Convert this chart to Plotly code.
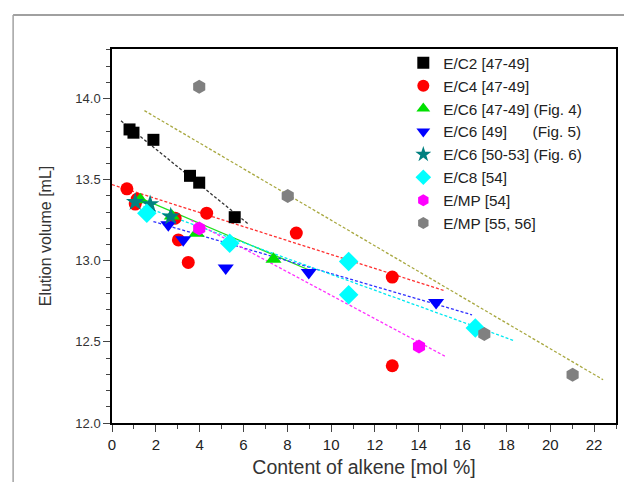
import plotly.graph_objects as go

# ---- data ----
c2_x = [0.80, 0.98, 1.89, 3.56, 3.98, 5.60]
c2_y = [13.81, 13.79, 13.746, 13.524, 13.482, 13.269]

c4_x = [0.68, 1.06, 1.15, 2.88, 3.03, 3.48, 4.32, 8.41, 12.79, 12.79]
c4_y = [13.444, 13.35, 13.38, 13.263, 13.129, 12.99, 13.294, 13.171, 12.90, 12.353]

c6a_x = [1.29, 2.73, 3.86, 7.37]
c6a_y = [13.376, 13.277, 13.17, 13.01]

c6b_x = [2.57, 3.25, 5.19, 8.98, 14.79]
c6b_y = [13.222, 13.13, 12.955, 12.928, 12.743]

c6c_x = [1.06, 1.74, 2.68]
c6c_y = [13.362, 13.349, 13.273]

c8_x = [1.59, 5.37, 10.80, 10.80, 16.58]
c8_y = [13.294, 13.109, 12.996, 12.79, 12.585]

mp54_x = [3.98, 14.01]
mp54_y = [13.20, 12.472]

mp56_x = [3.98, 8.02, 16.99, 21.02]
mp56_y = [14.074, 13.40, 12.548, 12.298]

# fit lines (end points)
fit_c2_x = [0.41, 6.22];   fit_c2_y = [13.863, 13.227]
fit_c4_x = [0.0, 15.14];   fit_c4_y = [13.47, 12.817]
fit_c6a_x = [1.14, 9.15];  fit_c6a_y = [13.396, 12.934]
fit_c6b_x = [1.89, 16.43]; fit_c6b_y = [13.242, 12.667]
fit_c8_x = [1.44, 18.32];  fit_c8_y = [13.335, 12.509]
fit_mp54_x = [3.6, 15.22]; fit_mp54_y = [13.25, 12.41]
fit_mp56_x = [1.48, 22.41]; fit_mp56_y = [13.926, 12.267]

NB = "\u00a0"
series = [
    ("E/C2 [47-49]", c2_x, c2_y, "square", "#000000", 12),
    ("E/C4 [47-49]", c4_x, c4_y, "circle", "#ff0000", 13),
    ("E/C6 [47-49] (Fig. 4)", c6a_x, c6a_y, "triangle-up", "#00e000", 14),
    ("E/C6 [49]" + NB * 6 + "(Fig. 5)", c6b_x, c6b_y, "triangle-down", "#0000ff", 14),
    ("E/C6 [50-53] (Fig. 6)", c6c_x, c6c_y, "star", "#008080", 14),
    ("E/C8 [54]", c8_x, c8_y, "diamond", "#00ffff", 15),
    ("E/MP [54]", mp54_x, mp54_y, "hexagon", "#ff00ff", 14),
    ("E/MP [55, 56]", mp56_x, mp56_y, "hexagon", "#808080", 14),
]

fits = [
    (fit_c2_x, fit_c2_y, "#333333", "3px,2px"),
    (fit_c4_x, fit_c4_y, "#ff3030", "3px,2px"),
    (fit_c6a_x, fit_c6a_y, "#20e020", "solid"),
    (fit_c6b_x, fit_c6b_y, "#3030ff", "3px,2px"),
    (fit_c8_x, fit_c8_y, "#00e8f0", "3px,2px"),
    (fit_mp54_x, fit_mp54_y, "#ff30ff", "3px,2px"),
    (fit_mp56_x, fit_mp56_y, "#a8a840", "3px,2px"),
]

fig = go.Figure()
for fx, fy, col, dash in fits:
    fig.add_trace(go.Scatter(x=fx, y=fy, mode="lines", showlegend=False,
                             line=dict(color=col, width=1.3, dash=dash),
                             hoverinfo="skip"))

for name, xs, ys, sym, col, sz in series:
    fig.add_trace(go.Scatter(x=xs, y=ys, mode="markers", name=name,
                             marker=dict(symbol=sym, color=col, size=sz,
                                         line=dict(width=0))))

L, R, T, B = 112, 6, 49, 59
W, H = 624, 482
pw, ph = W - L - R, H - T - B
fx0 = (12.7 - L) / pw
fy0 = 1 + (T - 15) / ph

fig.update_layout(
    width=W, height=H,
    margin=dict(l=L, r=R, t=T, b=B),
    paper_bgcolor="white", plot_bgcolor="white",
    font=dict(family="Arial, Liberation Sans, sans-serif", color="#222222"),
    showlegend=True,
    legend=dict(x=0.578, y=1.007, xanchor="left", yanchor="top",
                bgcolor="rgba(0,0,0,0)", font=dict(size=15.3, color="#222222"),
                itemsizing="constant"),
    shapes=[
        dict(type="line", xref="paper", yref="paper", x0=fx0, x1=fx0,
             y0=-0.3, y1=fy0, line=dict(color="#8a8a8a", width=1.2)),
        dict(type="line", xref="paper", yref="paper", x0=fx0, x1=1.2,
             y0=fy0, y1=fy0, line=dict(color="#a0a0a0", width=2)),
    ],
)

fig.update_xaxes(
    range=[0, 23], dtick=2, tick0=0, ticks="outside", ticklen=7, tickwidth=1.3,
    showline=True, linecolor="black", linewidth=1.5, mirror=True,
    showgrid=False, zeroline=False, tickfont=dict(size=15, color="#222222"),
    minor=dict(dtick=1, ticks="outside", ticklen=4, tickwidth=1.2, showgrid=False),
    title=dict(text="Content of alkene [mol %]", font=dict(size=19.5, color="#333333"),
               standoff=9),
)
fig.update_yaxes(
    range=[12, 14.306], dtick=0.5, tick0=12, ticks="outside", ticklen=7, tickwidth=1.3,
    tickformat=".1f",
    showline=True, linecolor="black", linewidth=1.5, mirror=True,
    showgrid=False, zeroline=False, tickfont=dict(size=13, color="#333333"),
    minor=dict(dtick=0.1, ticks="outside", ticklen=4, tickwidth=1.2, showgrid=False),
    title=dict(text="Elution volume [mL]", font=dict(size=16, color="#333333"),
               standoff=20),
)

fig.write_html("out.html")
